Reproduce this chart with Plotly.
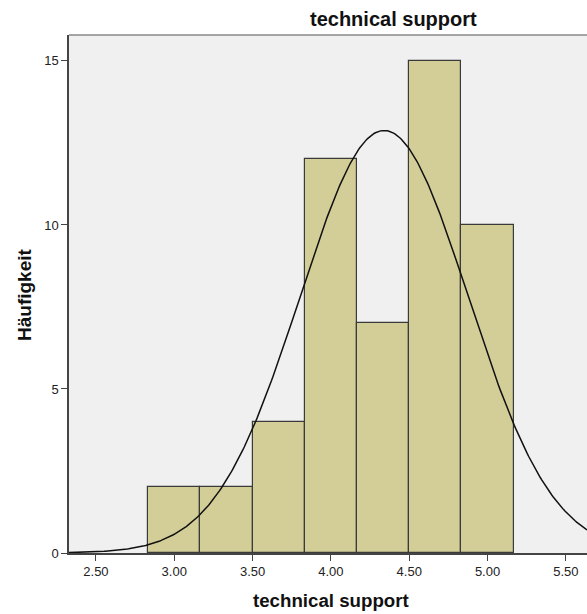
import numpy as np
import plotly.graph_objects as go

# Data
bin_edges = [2.8333, 3.1667, 3.5, 3.8333, 4.1667, 4.5, 4.8333, 5.1667]
counts = [2, 2, 4, 12, 7, 15, 10]
n_total = 52
mean_val = 4.34
sd_val = 0.537
x_tick_vals = [2.5, 3.0, 3.5, 4.0, 4.5, 5.0, 5.5]
x_tick_text = ["2.50", "3.00", "3.50", "4.00", "4.50", "5.00", "5.50"]
y_tick_vals = [0, 5, 10, 15]

mids = [(bin_edges[i] + bin_edges[i + 1]) / 2 for i in range(len(counts))]
widths = [bin_edges[i + 1] - bin_edges[i] for i in range(len(counts))]
bw = widths[0]

xr = [2.328, 5.635]
xc = np.linspace(xr[0], xr[1], 400)
yc = n_total * bw / (sd_val * np.sqrt(2 * np.pi)) * np.exp(-0.5 * ((xc - mean_val) / sd_val) ** 2)

fig = go.Figure()
fig.add_trace(go.Bar(
    x=mids, y=counts, width=widths,
    marker=dict(color="#D3CE98", line=dict(color="#3a3a3a", width=1.2)),
    hoverinfo="x+y", showlegend=False,
))
fig.add_trace(go.Scatter(
    x=xc, y=yc, mode="lines", line=dict(color="#111111", width=1.5),
    showlegend=False, hoverinfo="skip",
))

W, H = 587, 614
ml, mr, mt, mb = 69, 0, 35, 61
fig.update_layout(
    width=W, height=H,
    margin=dict(l=ml, r=mr, t=mt, b=mb),
    paper_bgcolor="white", plot_bgcolor="#F0F0F0",
    font=dict(family="Liberation Sans, Arial, sans-serif", size=13, color="#222"),
    bargap=0,
    xaxis=dict(
        range=xr, tickvals=x_tick_vals, ticktext=x_tick_text,
        ticks="outside", ticklen=6, tickcolor="#444", tickwidth=1,
        showgrid=False, zeroline=False,
        showline=True, linecolor="#444", linewidth=1.5,
        tickfont=dict(size=13, color="#222"),
    ),
    yaxis=dict(
        range=[0, 15.79], tickvals=y_tick_vals,
        ticks="outside", ticklen=6, tickcolor="#444", tickwidth=1,
        showgrid=False, zeroline=False,
        showline=True, linecolor="#444", linewidth=1.5,
        tickfont=dict(size=13, color="#222"),
    ),
    shapes=[dict(type="line", xref="paper", yref="paper", x0=0, x1=1, y0=1, y1=1,
                 line=dict(color="#888", width=1.5))],
    annotations=[
        dict(text="<b>technical support</b>", xref="paper", yref="paper",
             x=(393 - ml) / (W - ml - mr), y=1 + (35 - 19) / (H - mt - mb),
             xanchor="center", yanchor="middle", showarrow=False,
             font=dict(size=20, color="#111")),
        dict(text="<b>technical support</b>", xref="paper", yref="paper",
             x=(331 - ml) / (W - ml - mr), y=-(600 - 553) / (H - mt - mb),
             xanchor="center", yanchor="middle", showarrow=False,
             font=dict(size=18.7, color="#111")),
        dict(text="<b>Häufigkeit</b>", xref="paper", yref="paper",
             x=-(ml - 24) / (W - ml - mr), y=(553 - 295) / (H - mt - mb),
             xanchor="center", yanchor="middle", showarrow=False, textangle=-90,
             font=dict(size=19, color="#111")),
    ],
)

fig.write_html("out.html")
